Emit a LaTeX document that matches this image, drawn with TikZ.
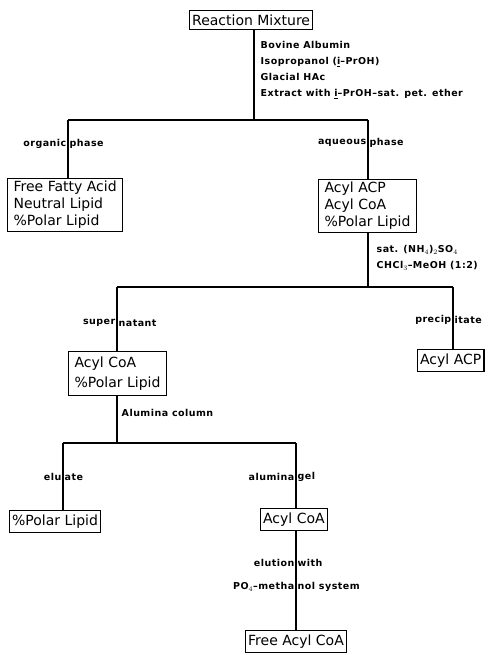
\documentclass[tikz,border=0pt]{standalone}
\usepackage{fontspec}
\setmainfont{DejaVu Sans}
\usetikzlibrary{positioning}

\begin{document}
\begin{tikzpicture}[x=1pt,y=-1pt,
  box/.style={draw,line width=1.3pt,inner xsep=2.5pt,inner ysep=4pt,align=left,
    font=\fontsize{14}{17}\selectfont},
  bigbox/.style={box,inner xsep=6pt,inner ysep=2.5pt},
  lbl/.style={inner sep=1.5pt,
    font=\bfseries\fontsize{9.5}{16}\selectfont\addfontfeatures{LetterSpace=5}},
  link/.style={line width=1.3pt}]
  \useasboundingbox (0,0) rectangle (487,655);

  % reaction mixture and phase split
  \node[box,anchor=north west] (mix) at (189,10) {Reaction Mixture};
  \node[lbl,align=left,anchor=north west] (reagents) at (259,40)
    {Bovine Albumin\\Isopropanol (\underline{i}--PrOH)\\Glacial HAc\\Extract with \underline{i}--PrOH--sat. pet. ether};
  \coordinate (split1) at (254,120);
  \coordinate (org) at (68,120);
  \coordinate (aq) at (368,120);
  \node[lbl,anchor=east] (orgL) at (68,144) {organic};
  \node[lbl,anchor=west] (orgR) at (68,144) {phase};
  \node[lbl,anchor=east] (aqL) at (368,143) {aqueous};
  \node[lbl,anchor=west] (aqR) at (368,143) {phase};
  \node[bigbox,anchor=north west] (ffa) at (7,178)
    {Free Fatty Acid\\Neutral Lipid\\\%Polar Lipid};
  \node[bigbox,anchor=north west] (aqbox) at (318,179)
    {Acyl ACP\\Acyl CoA\\\%Polar Lipid};
  \draw[link] (mix.south -| split1) -- (split1);
  \draw[link] (org) -- (aq);
  \draw[link] (org) -- (org |- ffa.north);
  \draw[link] (aq) -- (aq |- aqbox.north);

  % ammonium sulfate step
  \coordinate (split2) at (368,287);
  \coordinate (sup) at (117,287);
  \coordinate (ppt) at (453,287);
  \node[lbl,align=left,anchor=north west] (salt) at (375,244)
    {sat. (NH$_4$)$_2$SO$_4$\\CHCl$_3$--MeOH (1:2)};
  \node[lbl,anchor=east] (supL) at (117,323) {super};
  \node[lbl,anchor=west] (supR) at (117,323) {natant};
  \node[lbl,anchor=east] (pptL) at (453,320) {precip};
  \node[lbl,anchor=west] (pptR) at (453,320) {itate};
  \node[bigbox,anchor=north west,inner ysep=5pt,
    font=\fontsize{14}{20}\selectfont] (supbox) at (68,351)
    {Acyl CoA\\\%Polar Lipid};
  \node[box,anchor=north west] (acp) at (417,349) {Acyl ACP};
  \draw[link] (aqbox.south -| split2) -- (split2);
  \draw[link] (sup) -- (ppt);
  \draw[link] (sup) -- (sup |- supbox.north);
  \draw[link] (ppt) -- (ppt |- acp.north);

  % alumina column
  \coordinate (split3) at (117,443);
  \coordinate (elu) at (63,443);
  \coordinate (gel) at (296,443);
  \node[lbl,anchor=west] (column) at (120,413) {Alumina column};
  \node[lbl,anchor=east] (eluL) at (63,477) {elu};
  \node[lbl,anchor=west] (eluR) at (63,477) {ate};
  \node[lbl,anchor=east] (gelL) at (296,477) {alumina};
  \node[lbl,anchor=west] (gelR) at (296,477) {gel};
  \node[box,anchor=north west] (polar) at (9,510) {\%Polar Lipid};
  \node[box,anchor=north west] (coa) at (260,508) {Acyl CoA};
  \draw[link] (supbox.south -| split3) -- (split3);
  \draw[link] (elu) -- (gel);
  \draw[link] (elu) -- (elu |- polar.north);
  \draw[link] (gel) -- (gel |- coa.north);

  % elution
  \node[lbl,anchor=east] (elutL) at (296,563) {elution};
  \node[lbl,anchor=west] (elutR) at (296,563) {with};
  \node[lbl,anchor=east] (poL) at (296,587) {PO$_4$--metha};
  \node[lbl,anchor=west] (poR) at (296,587) {nol system};
  \node[box,anchor=north west] (free) at (245,630) {Free Acyl CoA};
  \draw[link] (coa.south -| gel) -- (gel |- free.north);
\end{tikzpicture}
\end{document}
